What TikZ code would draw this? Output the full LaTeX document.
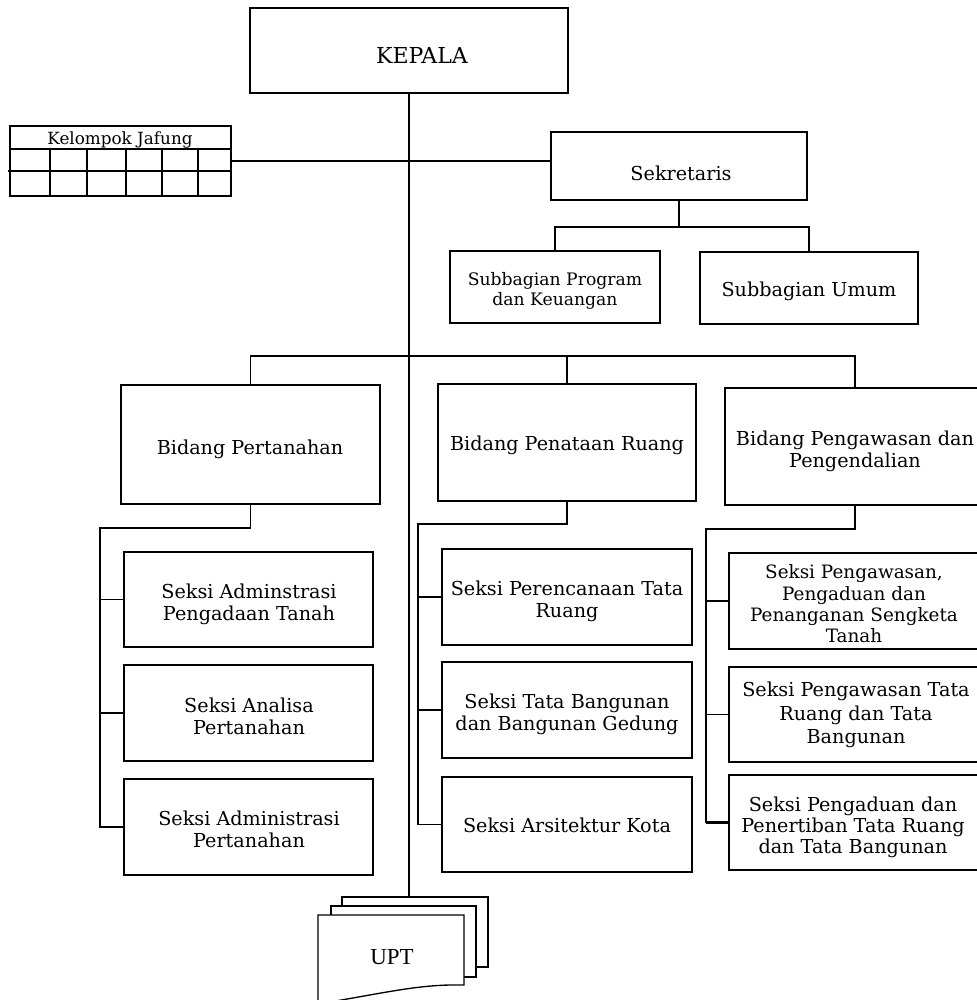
\documentclass[tikz,border=0pt]{standalone}
\usepackage{fontspec}
\setmainfont{DejaVu Serif}
\newfontfamily\uptfont{Liberation Serif}
\newcommand\obox[6][]{\node[obx,#1, minimum width={(#4-#3)*0.75pt}, minimum height={(#6-#5)*0.75pt}] (#2) at ({(#3+#4)/2},{(#5+#6)/2}) {};}
\begin{document}
\begin{tikzpicture}[x=0.75pt,y=-0.75pt, line width=1pt,
  obx/.style={draw, rectangle, inner sep=0pt, outer sep=0pt, fill=white},
  tx/.style={align=center, inner sep=0pt, font=\fontsize{14.4}{16.3}\selectfont},
  ts/.style={align=center, inner sep=0pt, font=\fontsize{12.9}{15}\selectfont},
  link/.style={draw, line width=1pt},
  thick link/.style={draw, line width=2.2pt}]
\useasboundingbox (0,0) rectangle (976,1000);

% boxes: \obox{name}{x1}{x2}{y1}{y2}
\obox{kepala}{250}{568}{8}{93}
\obox{kel}{10}{231}{126}{196}
\obox{sek}{551}{807}{132}{200}
\obox{sprog}{450}{660}{251}{323}
\obox{sumum}{700}{918}{252}{324}
\obox{pert}{121}{380}{385}{504}
\obox{pena}{438}{696}{384}{501}
\obox{peng}{725}{985}{388}{505}
\obox{s11}{124}{373}{552}{647}
\obox{s12}{124}{373}{665}{761}
\obox{s13}{124}{373}{779}{875}
\obox{s21}{442}{692}{549}{645}
\obox{s22}{442}{692}{662}{758}
\obox{s23}{442}{692}{777}{872}
\obox{s31}{729}{983}{553}{649}
\obox{s32}{729}{983}{667}{762}
\obox{s33}{729}{983}{775}{870}

% Kelompok Jafung grid
\draw (10,149) -- (231,149);
\draw (8,171) -- (231,171);
\foreach \gx in {50,87,126,162,198} \draw (\gx,149) -- (\gx,196);

% UPT stacked sheets
\obox{upt3}{342}{488}{897}{967}
\obox{upt2}{331}{476}{906}{977}
\draw[fill=white] (318,915) coordinate (uptA) -- (464,915) -- (464,985)
  .. controls (420,984) and (390,992) .. (318,1004) -- cycle;

% texts
\node[tx, font=\fontsize{16.5}{18}\selectfont] (kepala-t) at (422,55) {KEPALA};
\node[tx, font=\fontsize{12.6}{15}\selectfont] (kel-t) at (120,139.5) {Kelompok Jafung};
\node[tx] (sek-t) at (681,173) {Sekretaris};
\node[ts] (sprog-t) at (555,291) {Subbagian Program\\dan Keuangan};
\node[tx] (sumum-t) at (809,291) {Subbagian Umum};
\node[tx] (pert-t) at (250,449) {Bidang Pertanahan};
\node[tx] (pena-t) at (567,445) {Bidang Penataan Ruang};
\node[tx] (peng-t) at (855,451) {Bidang Pengawasan dan\\Pengendalian};
\node[tx] (s11-t) at (249,604) {Seksi Adminstrasi\\Pengadaan Tanah};
\node[tx] (s12-t) at (249,716) {Seksi Analisa\\Pertanahan};
\node[tx] (s13-t) at (249,829) {Seksi Administrasi\\Pertanahan};
\node[tx] (s21-t) at (567,601) {Seksi Perencanaan Tata\\Ruang};
\node[tx] (s22-t) at (567,714) {Seksi Tata Bangunan\\dan Bangunan Gedung};
\node[tx] (s23-t) at (567,825) {Seksi Arsitektur Kota};
\node[tx, font=\fontsize{13.8}{16}\selectfont] (s31-t) at (854,604) {Seksi Pengawasan,\\Pengaduan dan\\Penanganan Sengketa\\Tanah};
\node[tx, font=\fontsize{14.4}{17.5}\selectfont] (s32-t) at (856,715) {Seksi Pengawasan Tata\\Ruang dan Tata\\Bangunan};
\node[tx, font=\fontsize{14.4}{15.8}\selectfont] (s33-t) at (853,827) {Seksi Pengaduan dan\\Penertiban Tata Ruang\\dan Tata Bangunan};
\node[inner sep=0pt, font=\uptfont\fontsize{17.2}{19}\selectfont] (upt-t) at (392,957) {UPT};

% connectors
\coordinate (sb) at (679,227);
\coordinate (bb) at (409,356);
\coordinate (c1) at (100,528);
\coordinate (c2) at (418,524);
\coordinate (c3) at (706,529);

\draw[link] (kepala.south) -- (kepala.south |- upt3.north);
\draw[link] (kel.east) -- (kel.east -| sek.west);
\draw[link] (sek.south) -- (sb);
\draw[link] (sprog.north) -- (sprog.north |- sb) -- (sumum.north |- sb) -- (sumum.north);
\draw[link] (pert.north) -- (pert.north |- bb) -- (peng.north |- bb) -- (peng.north);
\draw[link] (pena.north) -- (pena.north |- bb);

\draw[link] (pert.south) -- (pert.south |- c1) -- (c1) -- (c1 |- s13.west) -- (s13.west);
\draw[link] (c1 |- s11.west) -- (s11.west);
\draw[link] (c1 |- s12.west) -- (s12.west);

\draw[link] (pena.south) -- (pena.south |- c2) -- (c2) -- (c2 |- s23.west) -- (s23.west);
\draw[link] (c2 |- s21.west) -- (s21.west);
\draw[link] (c2 |- s22.west) -- (s22.west);

\draw[link] (peng.south) -- (peng.south |- c3) -- (c3) -- (c3 |- s33.west);
\draw[thick link] (c3 |- s33.west) -- (s33.west);
\draw[link] (c3 |- s31.west) -- (s31.west);
\draw[link] (c3 |- s32.west) -- (s32.west);
\end{tikzpicture}
\end{document}
